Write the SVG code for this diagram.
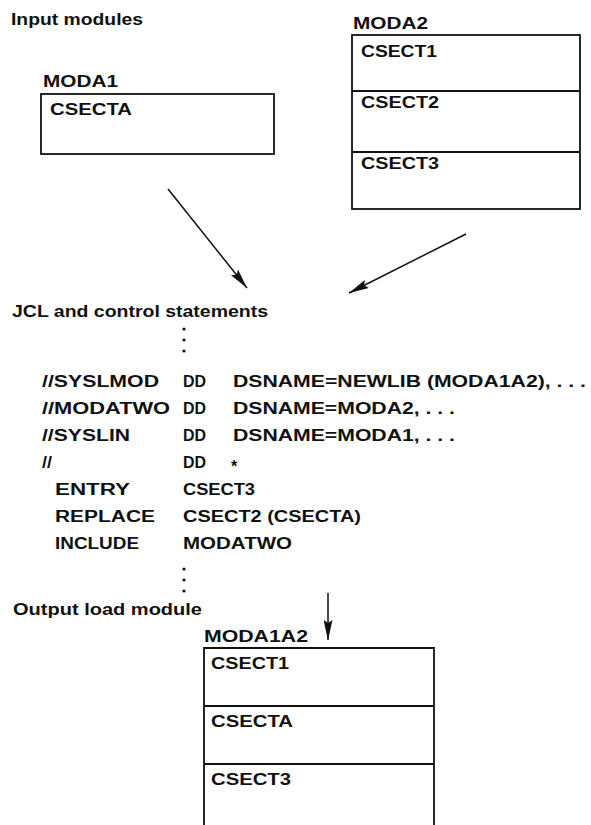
<svg xmlns="http://www.w3.org/2000/svg" width="591" height="825" viewBox="0 0 591 825">
  <style>
    text { font-family: "Liberation Sans", Arial, sans-serif; font-weight: bold; font-size: 16px; fill: #111; }
    .box { fill: none; stroke: #111; stroke-width: 1.8; }
    .div { stroke: #111; stroke-width: 1.8; }
    .conn { stroke: #111; stroke-width: 1.5; fill: none; }
    .dot { fill: #111; }
  </style>
  <defs>
    <marker id="head" viewBox="0 0 20 9" refX="20" refY="4.5" markerWidth="20" markerHeight="9" markerUnits="userSpaceOnUse" orient="auto">
      <path d="M0,0 L20,4.5 L0,9 L3,4.5 z" fill="#111"/>
    </marker>
  </defs>

  <rect width="591" height="825" fill="#fff"/>

  <text x="11" y="25" textLength="132" lengthAdjust="spacingAndGlyphs">Input modules</text>

  <!-- input module MODA1 -->
  <g id="moda1">
    <text x="43" y="87" textLength="75" lengthAdjust="spacingAndGlyphs">MODA1</text>
    <rect class="box" x="41" y="94" width="233" height="60"/>
    <text x="50" y="115" textLength="82" lengthAdjust="spacingAndGlyphs">CSECTA</text>
  </g>

  <!-- input module MODA2 -->
  <g id="moda2">
    <text x="353" y="29" textLength="75" lengthAdjust="spacingAndGlyphs">MODA2</text>
    <rect class="box" x="352" y="35" width="228" height="174"/>
    <line class="div" x1="352" y1="91" x2="580" y2="91"/>
    <line class="div" x1="352" y1="152" x2="580" y2="152"/>
    <text x="361" y="57" textLength="76" lengthAdjust="spacingAndGlyphs">CSECT1</text>
    <text x="361" y="108" textLength="78" lengthAdjust="spacingAndGlyphs">CSECT2</text>
    <text x="361" y="169" textLength="78" lengthAdjust="spacingAndGlyphs">CSECT3</text>
  </g>

  <!-- linkage editor input stream -->
  <g id="jcl">
    <text x="12" y="317" textLength="256" lengthAdjust="spacingAndGlyphs">JCL and control statements</text>
    <circle class="dot" cx="184" cy="329" r="1.6"/>
    <circle class="dot" cx="184" cy="340" r="1.6"/>
    <circle class="dot" cx="184" cy="351" r="1.6"/>

    <text x="42" y="387" textLength="117" lengthAdjust="spacingAndGlyphs">//SYSLMOD</text>
    <text x="183" y="387" textLength="23" lengthAdjust="spacingAndGlyphs">DD</text>
    <text x="233" y="387" textLength="353" lengthAdjust="spacingAndGlyphs">DSNAME=NEWLIB (MODA1A2), . . .</text>

    <text x="42" y="414" textLength="128" lengthAdjust="spacingAndGlyphs">//MODATWO</text>
    <text x="183" y="414" textLength="23" lengthAdjust="spacingAndGlyphs">DD</text>
    <text x="233" y="414" textLength="222" lengthAdjust="spacingAndGlyphs">DSNAME=MODA2, . . .</text>

    <text x="42" y="441" textLength="88" lengthAdjust="spacingAndGlyphs">//SYSLIN</text>
    <text x="183" y="441" textLength="23" lengthAdjust="spacingAndGlyphs">DD</text>
    <text x="233" y="441" textLength="222" lengthAdjust="spacingAndGlyphs">DSNAME=MODA1, . . .</text>

    <text x="42" y="468" textLength="10" lengthAdjust="spacingAndGlyphs">//</text>
    <text x="183" y="468" textLength="23" lengthAdjust="spacingAndGlyphs">DD</text>
    <text x="231" y="472">*</text>

    <text x="55" y="495" textLength="75" lengthAdjust="spacingAndGlyphs">ENTRY</text>
    <text x="183" y="495" textLength="72" lengthAdjust="spacingAndGlyphs">CSECT3</text>

    <text x="55" y="522" textLength="100" lengthAdjust="spacingAndGlyphs">REPLACE</text>
    <text x="183" y="522" textLength="178" lengthAdjust="spacingAndGlyphs">CSECT2 (CSECTA)</text>

    <text x="55" y="549" textLength="84" lengthAdjust="spacingAndGlyphs">INCLUDE</text>
    <text x="183" y="549" textLength="109" lengthAdjust="spacingAndGlyphs">MODATWO</text>

    <circle class="dot" cx="184" cy="569" r="1.6"/>
    <circle class="dot" cx="184" cy="580" r="1.6"/>
    <circle class="dot" cx="184" cy="591" r="1.6"/>
  </g>

  <text x="13" y="615" textLength="189" lengthAdjust="spacingAndGlyphs">Output load module</text>

  <!-- output load module MODA1A2 -->
  <g id="moda1a2">
    <text x="204" y="642" textLength="104" lengthAdjust="spacingAndGlyphs">MODA1A2</text>
    <path class="box" d="M204,825 V648 H434 V825"/>
    <line class="div" x1="204" y1="706" x2="434" y2="706"/>
    <line class="div" x1="204" y1="764" x2="434" y2="764"/>
    <text x="211" y="669" textLength="78" lengthAdjust="spacingAndGlyphs">CSECT1</text>
    <text x="211" y="727" textLength="82" lengthAdjust="spacingAndGlyphs">CSECTA</text>
    <text x="211" y="785" textLength="80" lengthAdjust="spacingAndGlyphs">CSECT3</text>
  </g>

  <!-- connectors -->
  <g id="connectors">
    <line class="conn" x1="168" y1="189" x2="247" y2="288" marker-end="url(#head)"/>
    <line class="conn" x1="466" y1="234" x2="349" y2="293" marker-end="url(#head)"/>
    <line class="conn" x1="328" y1="593" x2="328" y2="640" marker-end="url(#head)"/>
  </g>
</svg>
